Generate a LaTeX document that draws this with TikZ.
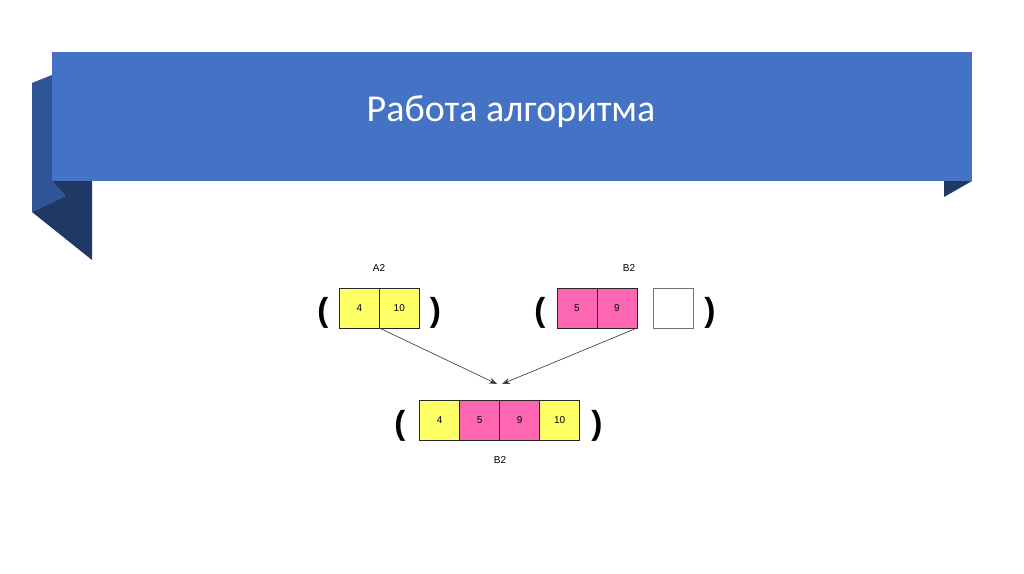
\documentclass[tikz,border=0pt]{standalone}
\usepackage{fontspec}
\setmainfont{Liberation Sans}
\newfontfamily\titlefont{Carlito}
\usetikzlibrary{arrows.meta, positioning}
\definecolor{ribbon}{HTML}{4472C4}
\definecolor{ribbonmid}{HTML}{2F5597}
\definecolor{ribbondark}{HTML}{203864}
\definecolor{cellyellow}{HTML}{FFFF66}
\definecolor{cellpink}{HTML}{FF66B2}
\tikzset{
    cell/.style={rectangle, draw=black!85, line width=0.6pt, minimum size=30pt, inner sep=0pt, outer sep=0pt, font=\fontsize{7.5}{8}\selectfont},
    yellowcell/.style={cell, fill=cellyellow},
    pinkcell/.style={cell, fill=cellpink},
    emptycell/.style={cell, draw=black!55, fill=white},
    paren/.style={inner sep=0pt, font=\bfseries\fontsize{25}{28}\selectfont},
    arrname/.style={inner sep=0pt, font=\fontsize{7.5}{8}\selectfont},
    arrow/.style={line width=0.5pt, draw=black!75, -{Stealth[length=6pt, width=4.5pt]}}
}

\begin{document}
\begin{tikzpicture}[x=0.75pt, y=-0.75pt]
    \useasboundingbox (0,0) rectangle (1024,574);
    % ribbon
    \fill[ribbonmid] (32,83) -- (52,75) -- (52,181) -- (65.7,196) -- (32,212) -- cycle;
    \fill[ribbondark] (52,181) -- (92,181) -- (92,260) -- (32,212) -- (65.7,196) -- cycle;
    \fill[ribbondark] (944,181) -- (972,181) -- (944,197) -- cycle;
    \fill[ribbon] (52,52) rectangle (972,181);
    \node (title) [anchor=base, text=white, inner sep=0pt, font=\titlefont\fontsize{28.5}{32}\selectfont] at (511,121.7) {Работа алгоритма};

    % A2
    \node (a1) [yellowcell] at (359.3,308) {4};
    \node (a2) [yellowcell, right=0pt of a1] {10};
    \node (aname) [arrname] at (379,268) {A2};
    \node (alp) [paren] at (323,313) {(};
    \node (arp) [paren] at (435.5,313) {)};

    % B2
    \node (b1) [pinkcell] at (577,308) {5};
    \node (b2) [pinkcell, right=0pt of b1] {9};
    \node (b3) [emptycell, right=12pt of b2] {};
    \node (bname) [arrname] at (629,268) {B2};
    \node (blp) [paren] at (540,313) {(};
    \node (brp) [paren] at (710,313) {)};

    % merged
    \node (m1) [yellowcell] at (439.7,420.3) {4};
    \node (m2) [pinkcell, right=0pt of m1] {5};
    \node (m3) [pinkcell, right=0pt of m2] {9};
    \node (m4) [yellowcell, right=0pt of m3] {10};
    \node (mname) [arrname] at (500,460) {B2};
    \node (mlp) [paren] at (400,425.5) {(};
    \node (mrp) [paren] at (597,425.5) {)};

    \coordinate (meetl) at (497,384);
    \coordinate (meetr) at (502,384);
    \draw [arrow] (a1.south east) -- (meetl);
    \draw [arrow] (b2.south east) -- (meetr);
\end{tikzpicture}
\end{document}
